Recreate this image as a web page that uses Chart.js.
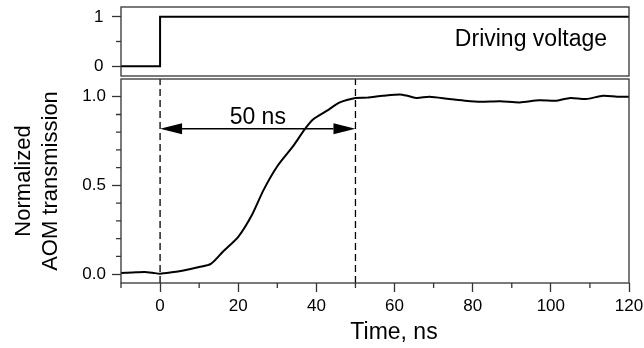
<!DOCTYPE html>
<html>
<head>
<meta charset="utf-8">
<script src="https://cdn.jsdelivr.net/npm/chart.js@4.4.0/dist/chart.umd.min.js"></script>
<style>
  html, body { margin: 0; padding: 0; background: #fff; }
  #wrap { position: relative; width: 644px; height: 348px; }
  canvas { position: absolute; left: 0; }
</style>
</head>
<body>
<div id="wrap">
  <canvas id="topPanel" width="644" height="78" style="top:0"></canvas>
  <canvas id="bottomPanel" width="644" height="270" style="top:78px"></canvas>
</div>
<script>
// time axis shared by both panels (ns)
const timeMin = -10, timeMax = 120;
const timeMajorTicks = [0, 20, 40, 60, 80, 100, 120];
const timeMinorTicks = [-10, 10, 30, 50, 70, 90, 110];

// driving voltage (step)
const voltTime = [-10, 0, 0, 120];
const voltLevel = [0, 0, 1, 1];
const voltMajorTicks = [0, 1];
const voltMinorTicks = [0.5];

// normalized AOM transmission
const transTime = [-10, -7, -4, -2, 0, 3, 6, 10, 13, 16, 20, 23.5, 26.5, 30, 34, 37, 39.2, 42.6, 46, 50,
  53, 57, 61.4, 63.5, 65.7, 69, 74, 78, 82, 87, 92, 97, 101.5, 105, 109, 113.4, 117, 120];
const transValue = [0.006, 0.009, 0.012, 0.008, 0.002, 0.01, 0.021, 0.04, 0.058, 0.125, 0.21, 0.333, 0.475, 0.608, 0.72, 0.816, 0.873, 0.92, 0.968, 0.993,
  0.995, 1.005, 1.013, 1.004, 0.993, 1.0, 0.987, 0.978, 0.972, 0.975, 0.968, 0.98, 0.978, 0.993, 0.987, 1.006, 1.0, 1.0];
const transMajorTicks = [0, 0.5, 1.0];
const transMinorTicks = [0.1, 0.2, 0.3, 0.4, 0.6, 0.7, 0.8, 0.9];

// 50 ns rise-time marker
const markerTimes = [0, 50];
const arrowLevel = 0.82;
const arrowLabel = '50 ns';

const FONT = '"Liberation Sans", Arial, sans-serif';
const AXIS = '#333';

// frame box + short minor ticks + free texts
const panelDecor = {
  id: 'panelDecor',
  afterDraw(chart, args, opts) {
    const { ctx, chartArea: a, scales } = chart;
    ctx.save();
    ctx.strokeStyle = AXIS;
    ctx.lineWidth = 1.3;
    ctx.strokeRect(a.left, a.top, a.right - a.left, a.bottom - a.top);
    ctx.beginPath();
    (opts.xMinor || []).forEach(v => {
      const px = scales.x.getPixelForValue(v);
      ctx.moveTo(px, a.bottom);
      ctx.lineTo(px, a.bottom + 5);
    });
    (opts.yMinor || []).forEach(v => {
      const py = scales.y.getPixelForValue(v);
      ctx.moveTo(a.left, py);
      ctx.lineTo(a.left - 5, py);
    });
    ctx.stroke();
    ctx.fillStyle = '#000';
    ctx.font = '23px ' + FONT;
    ctx.textBaseline = 'alphabetic';
    if (opts.text) {
      ctx.textAlign = 'right';
      ctx.fillText(opts.text, a.right - 22, a.top + 39);
    }
    if (opts.xTitle) {
      ctx.textAlign = 'center';
      ctx.fillText(opts.xTitle, (a.left + a.right) / 2 + 19, a.bottom + 56);
    }
    ctx.restore();
  }
};

// double-headed arrow between the two dashed markers
const riseArrow = {
  id: 'riseArrow',
  afterDatasetsDraw(chart) {
    const { ctx, scales: { x, y } } = chart;
    const x0 = x.getPixelForValue(markerTimes[0]);
    const x1 = x.getPixelForValue(markerTimes[1]);
    const py = y.getPixelForValue(arrowLevel);
    const hl = 22, hw = 5.5;
    ctx.save();
    ctx.strokeStyle = '#000';
    ctx.fillStyle = '#000';
    ctx.lineWidth = 1.5;
    ctx.beginPath();
    ctx.moveTo(x0 + hl, py);
    ctx.lineTo(x1 - hl, py);
    ctx.stroke();
    ctx.beginPath();
    ctx.moveTo(x0, py); ctx.lineTo(x0 + hl, py - hw); ctx.lineTo(x0 + hl, py + hw); ctx.closePath();
    ctx.moveTo(x1, py); ctx.lineTo(x1 - hl, py - hw); ctx.lineTo(x1 - hl, py + hw); ctx.closePath();
    ctx.fill();
    ctx.font = '23px ' + FONT;
    ctx.textAlign = 'center';
    ctx.textBaseline = 'alphabetic';
    ctx.fillText(arrowLabel, (x0 + x1) / 2, py - 5);
    ctx.restore();
  }
};

function pts(xs, ys) {
  return xs.map((v, i) => ({ x: v, y: ys[i] }));
}

function noPad(axis) {
  axis.paddingTop = 0;
  axis.paddingBottom = 0;
  axis.paddingLeft = 0;
  axis.paddingRight = 0;
}

function yAxis(min, max, majors, fmt, pad, title) {
  return {
    type: 'linear',
    min: min,
    max: max,
    afterBuildTicks: axis => { axis.ticks = majors.map(v => ({ value: v })); },
    afterFit: axis => { axis.width = 121; noPad(axis); },
    border: { display: false },
    grid: { drawOnChartArea: false, drawTicks: true, tickLength: 9, tickColor: AXIS, tickWidth: 1.3 },
    ticks: { color: '#000', padding: pad, font: { family: FONT, size: 17 }, callback: fmt },
    title: title || { display: false }
  };
}

new Chart(document.getElementById('topPanel'), {
  type: 'line',
  data: {
    datasets: [{
      data: pts(voltTime, voltLevel),
      borderColor: '#000',
      borderWidth: 2,
      pointRadius: 0,
      tension: 0
    }]
  },
  options: {
    responsive: false,
    animation: false,
    devicePixelRatio: 1,
    layout: { padding: { top: 7, right: 15, bottom: 2, left: 0 } },
    scales: {
      x: { type: 'linear', min: timeMin, max: timeMax, display: false },
      y: yAxis(-0.2, 1.2, voltMajorTicks, v => String(v), 8.5)
    },
    plugins: {
      legend: { display: false },
      tooltip: { enabled: false },
      panelDecor: { yMinor: voltMinorTicks, text: 'Driving voltage' }
    }
  },
  plugins: [panelDecor]
});

const markerSets = markerTimes.map(t => ({
  data: pts([t, t], [-0.05, 1.1]),
  borderColor: '#000',
  borderWidth: 1.3,
  borderDash: [7, 4],
  pointRadius: 0
}));

new Chart(document.getElementById('bottomPanel'), {
  type: 'line',
  data: {
    datasets: [{
      data: pts(transTime, transValue),
      borderColor: '#000',
      borderWidth: 2,
      pointRadius: 0,
      tension: 0.25
    }].concat(markerSets)
  },
  options: {
    responsive: false,
    animation: false,
    devicePixelRatio: 1,
    layout: { padding: { top: 1, right: 15, bottom: 0, left: 0 } },
    scales: {
      x: {
        type: 'linear',
        min: timeMin,
        max: timeMax,
        afterBuildTicks: axis => { axis.ticks = timeMajorTicks.map(v => ({ value: v })); },
        afterFit: axis => { axis.height = 65; noPad(axis); },
        border: { display: false },
        grid: { drawOnChartArea: false, drawTicks: true, tickLength: 9, tickColor: AXIS, tickWidth: 1.3 },
        ticks: { color: '#000', padding: 4, maxRotation: 0, font: { family: FONT, size: 17 } }
      },
      y: yAxis(-0.05, 1.1, transMajorTicks, v => v.toFixed(1), 6, {
        display: true,
        text: ['Normalized', 'AOM transmission'],
        color: '#000',
        font: { family: FONT, size: 22, lineHeight: 1.23 },
        padding: { top: 10.5, bottom: 0 }
      })
    },
    plugins: {
      legend: { display: false },
      tooltip: { enabled: false },
      panelDecor: { xMinor: timeMinorTicks, yMinor: transMinorTicks, xTitle: 'Time, ns' }
    }
  },
  plugins: [panelDecor, riseArrow]
});
</script>
</body>
</html>
